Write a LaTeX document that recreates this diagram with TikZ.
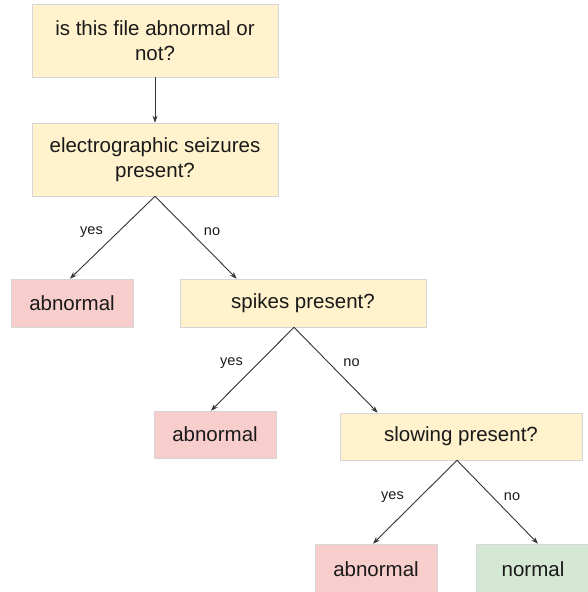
\documentclass[tikz,border=0pt]{standalone}
\usepackage{fontspec}
\setmainfont{Liberation Sans}
\usetikzlibrary{arrows.meta}
\definecolor{qfill}{HTML}{FFF2CC}
\definecolor{rfill}{HTML}{F8CECC}
\definecolor{gfill}{HTML}{D5E8D4}
\definecolor{edgec}{HTML}{D6D6D6}
\definecolor{linec}{HTML}{333333}
\definecolor{txtc}{HTML}{1A1A1A}
\tikzset{
  box/.style={draw=edgec, line width=0.6pt, inner sep=0pt, align=center, text=txtc,
    font=\fontsize{20.5}{24.5}\selectfont},
  qbox/.style={box, fill=qfill},
  rbox/.style={box, fill=rfill},
  gbox/.style={box, fill=gfill},
  conn/.style={draw=linec, line width=0.9pt, -{Stealth[length=7pt,width=5pt]}},
  lbl/.style={font=\fontsize{14.5}{16}\selectfont, text=txtc, inner sep=0pt}
}
\begin{document}
\begin{tikzpicture}[x=1pt,y=-1pt]
\useasboundingbox (0,0) rectangle (588,592);
\node[qbox, minimum width=246pt, minimum height=73pt] (q1) at (155,40.5) {is this file abnormal or\\not?};
\node[qbox, minimum width=246pt, minimum height=73pt] (q2) at (155,159.5) {electrographic seizures\\present?};
\node[rbox, minimum width=122pt, minimum height=48pt] (a1) at (72,303) {abnormal};
\node[qbox, minimum width=246pt, minimum height=48pt] (q3) at (303,303) {spikes present?};
\node[rbox, minimum width=122pt, minimum height=47pt] (a2) at (215,434.5) {abnormal};
\node[qbox, minimum width=242pt, minimum height=47pt] (q4) at (461,436.5) {slowing present?};
\node[rbox, minimum width=122pt, minimum height=50pt] (a3) at (376,569) {abnormal};
\node[gbox, minimum width=114pt, minimum height=50pt] (n1) at (533,569) {normal};

\draw[conn] (q1.south) -- (q2.north);
\draw[conn] (q2.south) -- ([xshift=-2pt]a1.north);
\draw[conn] (q2.south) -- ([xshift=57pt]q3.north west);
\draw[conn] ([xshift=-9pt]q3.south) -- ([xshift=-4pt]a2.north);
\draw[conn] ([xshift=-9pt]q3.south) -- ([xshift=38pt]q4.north west);
\draw[conn] ([xshift=-4pt]q4.south) -- ([xshift=-3pt]a3.north);
\draw[conn] ([xshift=-4pt]q4.south) -- ([xshift=5pt]n1.north);

\node[lbl] (l1) at (91.5,232) {yes};
\node[lbl] (l2) at (212,232) {no};
\node[lbl] (l3) at (231.5,363) {yes};
\node[lbl] (l4) at (351.5,363) {no};
\node[lbl] (l5) at (392.5,497) {yes};
\node[lbl] (l6) at (512,497) {no};
\end{tikzpicture}
\end{document}
